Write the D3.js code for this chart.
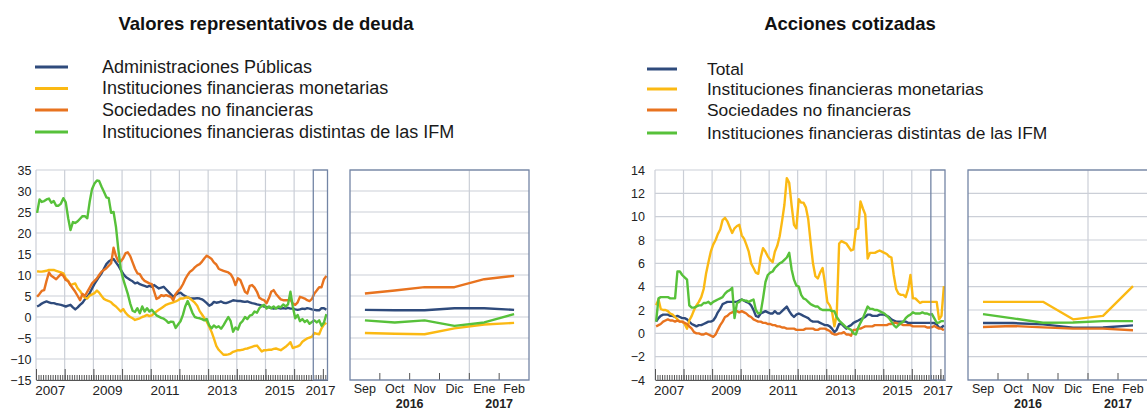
<!DOCTYPE html>
<html>
<head>
<meta charset="utf-8">
<script src="https://cdn.jsdelivr.net/npm/d3@7"></script>
<style>
  body { margin: 0; background: #fff; }
  svg { display: block; font-family: "Liberation Sans", Arial, sans-serif; }
</style>
</head>
<body>
<svg width="1147" height="410"></svg>
<script>
var svg = d3.select('svg');

// months Jan 2007 .. Feb 2017 (categories)
var months = d3.timeMonth.range(new Date(2007, 0, 1), new Date(2017, 2, 1));
var zoomMonths = ['Sep', 'Oct', 'Nov', 'Dic', 'Ene', 'Feb'];
var zoomYears = ['2016', '2017'];
var yearLabels = [2007, 2009, 2011, 2013, 2015, 2017];
var deudaTicks = [35, 30, 25, 20, 15, 10, 5, 0, -5, -10, -15];
var accTicks = [14, 12, 10, 8, 6, 4, 2, 0, -2, -4];

var deudaNames = ['Administraciones Públicas', 'Instituciones financieras monetarias',
                  'Sociedades no financieras', 'Instituciones financieras distintas de las IFM'];
var accNames = ['Total', 'Instituciones financieras monetarias',
                'Sociedades no financieras', 'Instituciones financieras distintas de las IFM'];
var colors = ['#2f4b7c', '#fbb913', '#e8731f', '#57c13a'];

// Valores representativos de deuda (tasa interanual, %)
var deudaAAPP = [
  2.5, 2.8, 3.2, 3.5, 3.7, 3.5, 3.3, 3.3, 3.1, 3.0, 2.9, 2.7,
  2.5, 2.7, 2.9, 2.3, 1.8, 2.3, 2.9, 3.4, 4.2, 4.8, 5.7, 6.8,
  7.9, 8.8, 9.6, 10.4, 11.5, 12.6, 13.2, 13.6, 13.8, 13.0, 12.2, 11.2,
  10.3, 9.6, 9.2, 8.8, 8.5, 8.0, 8.2, 7.8, 7.6, 7.4, 7.2, 7.4,
  7.2, 7.6, 7.2, 6.8, 7.0, 7.2, 6.6, 6.0, 5.4, 4.8, 5.3, 5.6,
  5.8, 5.3, 5.0, 4.7, 4.5, 4.4, 4.4, 4.5, 4.4, 4.2, 3.8, 3.3,
  2.7, 3.0, 3.6, 3.4, 3.5, 3.7, 3.4, 3.3, 3.5, 3.7, 4.0, 3.9,
  3.8, 3.8, 3.7, 3.6, 3.7, 3.5, 3.3, 3.2, 3.0, 2.9, 2.7, 2.5,
  2.4, 2.3, 2.1, 2.0, 2.1, 2.2, 2.0, 2.1, 2.0, 2.2, 2.0, 2.0,
  1.8, 1.7, 1.8, 2.0, 1.9, 2.1, 2.0, 1.8, 1.7, 1.6, 1.6, 2.1,
  2.1, 1.7
];
var deudaIFM = [
  10.9, 10.8, 10.8, 10.9, 11.0, 11.2, 11.2, 11.2, 11.0, 10.8, 10.6, 10.4,
  9.2, 8.6, 7.6, 7.8, 8.0, 6.8, 6.2, 5.2, 4.6, 4.4, 5.1, 5.4,
  5.7, 6.3, 5.8, 5.0, 4.3, 4.0, 3.8, 3.5, 2.9, 2.5, 1.9, 1.3,
  1.9, 1.0, 0.4, 0.0, -0.3, -0.7, -0.5, -0.3, 0.0, 0.2, 0.5, 0.2,
  0.4, 0.9, 1.3, 1.7, 2.1, 2.5, 2.9, 3.1, 3.3, 3.5, 3.7, 4.0,
  4.4, 4.4, 4.6, 4.7, 4.4, 3.9, 3.4, 2.7, 1.4, 0.6, -0.3, -1.1,
  -2.3, -3.6, -5.1, -6.9, -7.8, -8.4, -9.0, -9.0, -8.9, -8.7, -8.3, -8.1,
  -7.9, -7.9, -7.8, -7.6, -7.5, -7.3, -7.1, -6.9, -6.8, -7.5, -8.2, -7.9,
  -7.9, -7.8, -7.8, -7.6, -7.5, -7.7, -7.9, -7.5, -7.1, -6.6, -6.0, -7.4,
  -7.2, -7.0, -6.7, -5.9, -5.5, -5.1, -4.9, -4.7, -3.8, -4.0, -4.1, -2.7,
  -1.8, -1.4
];
var deudaSNF = [
  4.8, 5.5, 6.2, 6.4, 8.6, 10.6, 9.8, 9.4, 9.0, 9.6, 10.2, 9.8,
  8.8, 8.5, 7.6, 6.8, 6.0, 5.0, 4.0, 5.5, 5.0, 6.0, 7.0, 8.0,
  8.6, 9.2, 10.0, 10.8, 11.2, 11.6, 12.2, 12.8, 16.5, 14.5, 13.2, 13.2,
  14.0, 15.2, 15.4, 14.5, 13.0, 11.5, 10.4, 10.2, 9.2, 8.6, 8.3, 8.0,
  7.8, 6.0, 4.3, 4.6, 5.2, 5.0, 5.2, 5.0, 4.8, 4.0, 5.5, 6.2,
  6.8, 7.8, 9.0, 10.0, 10.8, 11.2, 11.8, 12.3, 12.6, 13.2, 14.0, 14.6,
  14.2, 13.8, 13.0, 12.5, 11.5, 11.2, 11.0, 10.8, 10.6, 10.2, 9.2, 7.6,
  9.2, 8.8, 7.5, 6.0, 5.6, 7.4, 7.6, 7.0, 6.0, 4.6, 4.2, 4.0,
  3.3, 4.5, 6.0, 6.4, 5.5, 4.8, 4.2, 4.0, 4.0, 4.0, 4.2, 3.2,
  2.9, 3.5, 4.8, 4.6, 4.4, 4.0, 3.8, 4.3, 5.6, 6.3, 7.1, 7.1,
  9.0, 9.8
];
var deudaOIF = [
  24.8, 28.0, 27.4, 27.6, 28.0, 28.2, 27.2, 27.6, 26.5, 26.5, 27.0, 28.3,
  27.3, 23.5, 20.7, 22.6, 22.4, 22.8, 23.4, 24.0, 24.0, 23.5, 27.5, 30.5,
  31.8, 32.5, 32.4, 31.0, 29.8, 28.5, 28.3, 24.8, 25.0, 21.5, 16.0, 11.5,
  9.0, 7.2, 5.5, 3.2, 1.5, 1.2, 2.1, 0.9, 2.5, 1.3, 2.1, 1.3,
  1.7, 1.0, 0.4, 0.1, -0.2, -0.4, -0.8, -1.4, -1.1, -1.2, -2.6, -1.8,
  -1.0, 0.5, 2.5, 3.8, 2.5, 1.0, 0.0, -0.2, -0.3, -0.5, -0.8, -0.5,
  -2.0, -2.7, -2.0, -2.5, -2.2, -2.8, -2.0, -1.0, 0.0, -1.0, -3.5, -2.5,
  -3.0, -1.5, -1.0, 0.0, -0.5, 0.3, 0.5, 1.3, 1.0, 2.1, 2.6, 2.9,
  2.0, 2.5, 2.1, 2.5, 2.0, 2.5, 2.3, 3.0, 2.5, 3.0, 6.0, 2.5,
  -0.3, 0.5, -1.0, -0.5, -1.2, -0.8, -1.6, -1.2, -0.8, -1.3, -0.8, -2.1,
  -1.3, 0.7
];

// Acciones cotizadas (tasa interanual, %)
var accTotal = [
  1.0, 1.3, 1.5, 1.6, 1.6, 1.6, 1.5, 1.5, 1.4, 1.5, 1.4, 1.3,
  1.3, 1.2, 1.0, 0.8, 0.7, 0.6, 0.7, 0.7, 0.8, 0.9, 1.0, 1.0,
  1.1, 1.4, 1.8, 2.1, 2.5, 2.6, 2.7, 2.7, 2.7, 2.7, 2.7, 2.8,
  2.9, 2.8, 2.7, 2.6, 2.4, 2.0, 1.5, 1.4, 1.7, 1.8, 1.9, 1.8,
  1.7, 1.7, 1.9, 1.7, 1.7, 1.9, 2.1, 2.3, 1.9, 1.6, 1.4, 1.6,
  1.7, 1.6, 1.5, 1.4, 1.3, 1.1, 1.0, 1.0, 1.0, 0.9, 0.8, 0.7,
  0.7, 0.6, 0.4, 0.1, 0.3, 0.8, 0.8, 0.6, 0.4, 0.6, 0.7, 0.9,
  1.0, 1.1, 1.2, 1.3, 1.4, 1.6, 1.6, 1.5, 1.5, 1.5, 1.6, 1.6,
  1.6, 1.5, 1.4, 1.2, 1.1, 1.0, 1.0, 1.0, 1.0, 1.0, 0.9, 0.9,
  0.9, 0.9, 0.9, 0.9, 0.9, 0.9, 0.9, 0.9, 0.88, 0.88, 0.77, 0.49,
  0.5, 0.68
];
var accIFM = [
  2.4, 2.9, 2.1, 2.0, 2.0, 1.9, 1.7, 1.6, 1.4, 1.2, 1.0, 1.0,
  0.8, 0.4, 1.1, 1.5, 2.0, 2.4, 2.7, 3.1, 3.8, 5.1, 6.1, 7.0,
  7.6, 8.0, 8.5, 8.9, 9.7, 9.9, 9.6, 9.1, 8.6, 9.0, 9.2, 9.3,
  8.4, 8.1, 7.6, 7.0, 6.0, 5.6, 5.2, 5.1, 6.5, 7.3, 7.0, 6.6,
  6.3, 6.1, 7.0, 7.5, 8.3, 9.6, 11.0, 13.3, 12.9, 11.0, 9.3, 9.0,
  11.5, 11.2, 11.2, 10.8, 9.8, 7.8, 6.0, 4.9, 4.7, 5.2, 5.6, 4.3,
  2.7, 2.4, 1.9, 0.6, 1.6, 7.7, 7.9, 7.8, 7.7, 7.4, 7.1, 7.2,
  8.9, 9.0, 11.3, 10.7, 10.2, 6.4, 6.9, 6.9, 6.9, 7.0, 7.1, 7.0,
  6.9, 6.8, 6.6, 6.5, 5.0, 3.8, 3.4, 3.3, 3.3, 3.1, 3.8, 5.0,
  3.0, 3.0, 2.8, 2.6, 2.7, 2.7, 2.7, 2.7, 2.7, 2.7, 2.7, 1.2,
  1.5, 4.05
];
var accSNF = [
  0.6, 0.7, 0.8, 1.0, 1.1, 1.2, 1.1, 1.1, 1.0, 1.1, 1.0, 1.0,
  0.9, 0.8, 0.6, 0.4, 0.1, 0.0, 0.0, -0.1, -0.1, 0.0, -0.1, -0.2,
  -0.3, -0.1, 0.3, 0.7, 1.0, 1.4, 1.5, 1.7, 1.8, 1.9, 1.9, 1.8,
  1.9, 1.8, 1.7, 1.5, 1.4, 1.2, 1.1, 1.0, 1.0, 0.9, 0.9, 0.8,
  0.8, 0.7, 0.7, 0.6, 0.6, 0.5, 0.5, 0.4, 0.4, 0.4, 0.4, 0.3,
  0.3, 0.3, 0.3, 0.4, 0.4, 0.4, 0.4, 0.3, 0.3, 0.4, 0.4, 0.4,
  0.3, 0.2, 0.0, -0.1, -0.1, 0.0, 0.0, 0.1, -0.1, -0.1, -0.2, 0.3,
  0.3, 0.4, 0.4, 0.5, 0.6, 0.6, 0.6, 0.6, 0.7, 0.7, 0.7, 0.7,
  0.7, 0.7, 0.8, 0.8, 0.9, 0.9, 0.8, 0.8, 0.7, 0.7, 0.7, 0.7,
  0.6, 0.6, 0.6, 0.6, 0.6, 0.6, 0.5, 0.5, 0.54, 0.63, 0.51, 0.4,
  0.4, 0.26
];
var accOIF = [
  1.0, 3.0, 3.1, 3.1, 3.1, 3.1, 3.0, 3.0, 3.0, 5.3, 5.3, 5.0,
  4.8, 4.6, 2.4, 2.2, 2.2, 2.3, 2.4, 2.4, 2.6, 2.6, 2.7, 2.5,
  2.7, 2.8, 2.9, 3.0, 3.1, 3.4, 3.6, 3.7, 3.9, 1.3, 2.6, 2.7,
  2.9, 2.8, 2.8, 2.7, 2.8, 2.9, 2.0, 1.7, 1.8, 3.0, 4.4, 5.0,
  5.2, 5.3, 5.6, 5.8, 6.0, 6.1, 6.3, 6.5, 6.9, 5.5, 4.6, 4.1,
  4.0, 3.3, 3.0, 2.9, 2.7, 2.5, 2.4, 2.3, 2.3, 2.1, 2.0, 2.0,
  2.0, 2.0, 1.9, 1.9, 1.4, 1.1, 0.9, 0.7, 0.5, 0.4, 0.3, 0.0,
  -0.1, 0.5, 0.9, 1.3, 1.8, 2.3, 2.1, 2.1, 2.0, 2.0, 1.9, 1.8,
  1.7, 1.5, 1.3, 1.0, 0.7, 0.5, 0.7, 0.9, 1.0, 1.3, 1.5, 1.6,
  1.8, 1.7, 1.7, 1.7, 1.8, 1.7, 1.7, 1.6, 1.65, 1.28, 0.91, 0.93,
  1.05, 1.05
];

var gridColor = '#cbcfd7';
var frameColor = '#7385a5';
var plotTop = 170, plotBottom = 380;

var charts = [
  { title: 'Valores representativos de deuda', titleX: 266,
    names: deudaNames, series: [deudaAAPP, deudaIFM, deudaSNF, deudaOIF], ticks: deudaTicks,
    left: 36, right: 327.5, labelPad: 4.5, zl: 350, zr: 529,
    legX1: 35, legX2: 68, legText: 102, legY: [67, 88.5, 110, 132], legFont: 18 },
  { title: 'Acciones cotizadas', titleX: 850,
    names: accNames, series: [accTotal, accIFM, accSNF, accOIF], ticks: accTicks,
    left: 655, right: 945, labelPad: 10, zl: 968, zr: 1148,
    legX1: 647, legX2: 677, legText: 707, legY: [69, 89, 110, 133], legFont: 17.4 }
];

charts.forEach(function(c) {
  var g = svg.append('g');

  var x = d3.scaleTime()
    .domain([new Date(2007, 0, 1), new Date(2017, 2, 1)])
    .range([c.left, c.right]);
  var y = d3.scaleLinear()
    .domain([c.ticks[c.ticks.length - 1], c.ticks[0]])
    .range([plotBottom, plotTop]);

  // title + legend
  g.append('text')
    .attr('x', c.titleX).attr('y', 30)
    .attr('text-anchor', 'middle')
    .attr('font-size', 18.5).attr('font-weight', 'bold').attr('fill', '#111')
    .text(c.title);

  var leg = g.selectAll('.leg').data(c.names).enter().append('g');
  leg.append('line')
    .attr('x1', c.legX1).attr('x2', c.legX2)
    .attr('y1', function(d, i){ return c.legY[i]; })
    .attr('y2', function(d, i){ return c.legY[i]; })
    .attr('stroke', function(d, i){ return colors[i]; })
    .attr('stroke-width', 3);
  leg.append('text')
    .attr('x', c.legText)
    .attr('y', function(d, i){ return c.legY[i] + 5.5; })
    .attr('font-size', c.legFont).attr('fill', '#1a1a1a')
    .text(function(d){ return d; });

  // ---- main panel ----
  g.selectAll('.hgrid').data(c.ticks).enter().append('line')
    .attr('x1', c.left).attr('x2', c.right)
    .attr('y1', function(d){ return y(d); })
    .attr('y2', function(d){ return y(d); })
    .attr('stroke', gridColor).attr('stroke-width', 1.2);

  var years = d3.timeYear.range(new Date(2007, 0, 1), new Date(2017, 0, 1));
  g.selectAll('.vgrid').data(years).enter().append('line')
    .attr('x1', function(d){ return x(d); })
    .attr('x2', function(d){ return x(d); })
    .attr('y1', plotTop).attr('y2', plotBottom)
    .attr('stroke', gridColor).attr('stroke-width', 1.2);

  // monthly + yearly ticks pointing up from the bottom
  g.append('g')
    .attr('transform', 'translate(0,' + plotBottom + ')')
    .call(d3.axisTop(x).tickValues(months).tickSize(5).tickSizeOuter(0).tickFormat(''))
    .call(function(a){
      a.selectAll('line').attr('stroke', '#555');
      a.select('.domain').attr('stroke', '#555');
    });
  g.append('g')
    .attr('transform', 'translate(0,' + plotBottom + ')')
    .call(d3.axisTop(x).tickValues(years.concat([new Date(2017, 0, 1)])).tickSize(11).tickFormat(''))
    .call(function(a){
      a.selectAll('line').attr('stroke', '#555');
      a.select('.domain').remove();
    });

  // y labels
  g.append('g')
    .attr('transform', 'translate(' + c.left + ',0)')
    .call(d3.axisLeft(y).tickValues(c.ticks).tickSize(0).tickPadding(c.labelPad))
    .call(function(a){
      a.select('.domain').remove();
      a.selectAll('text').attr('font-size', 12.5).attr('fill', '#222')
        .attr('font-family', '"Liberation Sans", Arial, sans-serif');
    });

  // year labels (last one pulled in to the edge)
  g.selectAll('.yl').data(yearLabels).enter().append('text')
    .attr('x', function(d){
      var dt = d === 2017 ? new Date(2016, 11, 1) : new Date(d, 6, 1);
      return x(dt);
    })
    .attr('y', 395)
    .attr('text-anchor', 'middle')
    .attr('font-size', 13.5).attr('fill', '#222')
    .text(function(d){ return d; });

  var line = d3.line()
    .x(function(d, i){ return x(d3.timeDay.offset(months[i], 14)); })
    .y(function(d){ return y(d); });

  c.series.forEach(function(s, k) {
    g.append('path')
      .datum(s)
      .attr('d', line)
      .attr('fill', 'none')
      .attr('stroke', colors[k])
      .attr('stroke-width', 2.4)
      .attr('stroke-linejoin', 'round');
  });

  // highlighted period
  var sep = x(new Date(2016, 8, 1));
  g.append('rect')
    .attr('x', sep).attr('y', plotTop)
    .attr('width', c.right - sep).attr('height', plotBottom - plotTop)
    .attr('fill', 'none').attr('stroke', frameColor).attr('stroke-width', 1.3);

  // ---- zoom panel ----
  var band = d3.scaleBand().domain(zoomMonths).range([c.zl, c.zr]);
  var mid = function(m){ return band(m) + band.bandwidth() / 2; };

  g.selectAll('.zgrid').data(c.ticks).enter().append('line')
    .attr('x1', c.zl).attr('x2', c.zr)
    .attr('y1', function(d){ return y(d); })
    .attr('y2', function(d){ return y(d); })
    .attr('stroke', gridColor).attr('stroke-width', 1.2);

  g.append('line')
    .attr('x1', band('Ene')).attr('x2', band('Ene'))
    .attr('y1', plotTop).attr('y2', plotBottom)
    .attr('stroke', gridColor).attr('stroke-width', 1.2);

  g.selectAll('.ztick').data(zoomMonths.slice(1)).enter().append('line')
    .attr('x1', function(d){ return band(d); })
    .attr('x2', function(d){ return band(d); })
    .attr('y1', plotBottom).attr('y2', plotBottom - 7)
    .attr('stroke', '#555');

  var zline = d3.line()
    .x(function(d, i){ return mid(zoomMonths[i]); })
    .y(function(d){ return y(d); });

  c.series.forEach(function(s, k) {
    g.append('path')
      .datum(s.slice(-6))
      .attr('d', zline)
      .attr('fill', 'none')
      .attr('stroke', colors[k])
      .attr('stroke-width', 2.4)
      .attr('stroke-linejoin', 'round');
  });

  g.append('rect')
    .attr('x', c.zl).attr('y', plotTop)
    .attr('width', c.zr - c.zl).attr('height', plotBottom - plotTop)
    .attr('fill', 'none').attr('stroke', frameColor).attr('stroke-width', 1.3);

  g.selectAll('.zm').data(zoomMonths).enter().append('text')
    .attr('x', function(d){ return mid(d); })
    .attr('y', 393)
    .attr('text-anchor', 'middle')
    .attr('font-size', 12.5).attr('fill', '#222')
    .text(function(d){ return d; });

  g.selectAll('.zy').data(zoomYears).enter().append('text')
    .attr('x', function(d, i){
      return i === 0 ? (band('Sep') + band('Ene')) / 2 : (band('Ene') + c.zr) / 2;
    })
    .attr('y', 408)
    .attr('text-anchor', 'middle')
    .attr('font-size', 12.5).attr('font-weight', 'bold').attr('fill', '#222')
    .text(function(d){ return d; });
});
</script>
</body>
</html>
